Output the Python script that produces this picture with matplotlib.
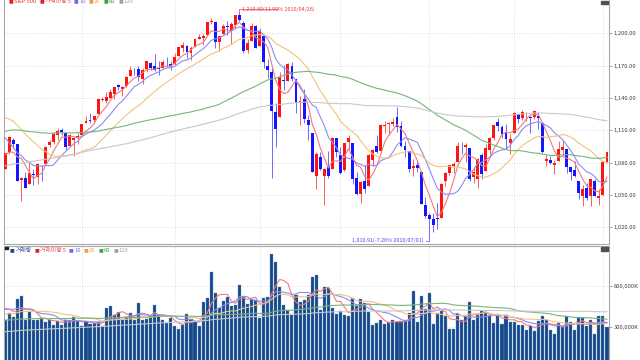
import matplotlib
matplotlib.use("Agg")
import matplotlib.pyplot as plt
import numpy as np
import pandas as pd
from matplotlib.offsetbox import TextArea, HPacker, AnchoredOffsetbox
from matplotlib.patches import Rectangle

plt.rcParams['font.family'] = ['Noto Sans CJK KR', 'DejaVu Sans']

# S&P 500 daily, 2010-02-01 .. 2010-09-02
opens = [
    1073.89, 1090.05, 1100.67, 1097.25, 1064.12, 1065.51, 1060.06, 1069.68, 1067.10, 1075.95,
    1079.13, 1096.14, 1099.03, 1105.49, 1110.00, 1107.49, 1095.89, 1101.24, 1103.10,
    1105.36, 1117.01, 1119.36, 1119.12, 1125.12, 1138.40, 1137.56, 1140.22, 1143.96, 1151.71,
    1148.53, 1150.83, 1159.94, 1166.13, 1166.68, 1157.25, 1166.47, 1172.70, 1170.03, 1167.58,
    1167.71, 1173.75, 1171.75,
    1171.23, 1178.71, 1186.01, 1188.23, 1181.75, 1187.47, 1194.94, 1195.94, 1198.69, 1210.77,
    1210.17, 1192.06, 1199.04, 1207.16, 1202.52, 1207.87, 1217.07, 1209.92, 1184.59, 1193.30,
    1206.77,
    1188.58, 1197.50, 1169.24, 1164.38, 1127.04, 1122.27, 1156.39, 1155.43, 1170.04, 1157.19,
    1136.52, 1138.78, 1119.57, 1107.34, 1067.26, 1084.78, 1067.42, 1075.51, 1074.27, 1102.59,
    1087.30, 1073.01, 1098.82, 1098.43, 1065.84, 1050.81, 1062.75, 1058.77, 1082.65, 1095.00,
    1091.21, 1114.02, 1115.98, 1116.16, 1122.79, 1113.90, 1095.57, 1090.93, 1075.10, 1077.50,
    1071.10, 1040.56,
    1031.10, 1027.65, 1028.09, 1028.54, 1062.92, 1070.50, 1077.23, 1080.65, 1095.61, 1094.46,
    1093.85, 1066.85, 1064.53, 1086.67, 1072.14, 1092.17, 1102.89, 1117.36, 1112.84, 1108.07,
    1098.44,
    1107.53, 1125.34, 1121.06, 1125.78, 1122.07, 1122.80, 1122.92, 1116.89, 1081.48, 1082.22,
    1077.49, 1081.16, 1092.08, 1092.44, 1075.63, 1073.36, 1063.20, 1048.98, 1056.28, 1049.27,
    1062.90, 1046.88,
    1049.72, 1080.66]
highs = [
    1089.38, 1104.73, 1102.72, 1097.25, 1067.13, 1071.20, 1079.28, 1073.67, 1080.04, 1077.81,
    1095.67, 1101.03, 1108.24, 1112.42, 1112.29, 1108.58, 1106.42, 1103.50, 1107.24,
    1116.11, 1123.46, 1125.64, 1123.73, 1139.38, 1141.05, 1145.37, 1148.26, 1150.24, 1153.41,
    1150.98, 1160.28, 1169.84, 1167.77, 1169.20, 1167.82, 1174.72, 1173.04, 1180.69, 1173.93,
    1174.85, 1177.83, 1174.56,
    1181.43, 1187.73, 1191.80, 1189.60, 1188.55, 1194.66, 1199.20, 1199.04, 1210.65, 1213.92,
    1210.17, 1197.87, 1208.58, 1210.99, 1210.27, 1217.28, 1219.80, 1211.38, 1195.05, 1209.36,
    1207.99,
    1205.13, 1197.50, 1175.95, 1167.58, 1135.13, 1163.85, 1170.48, 1172.87, 1173.57, 1157.19,
    1141.88, 1148.66, 1124.27, 1107.34, 1090.16, 1089.95, 1074.75, 1090.75, 1103.52, 1102.59,
    1094.77, 1098.56, 1105.67, 1098.43, 1071.36, 1063.15, 1077.74, 1087.85, 1092.25, 1105.91,
    1115.59, 1118.74, 1117.72, 1121.01, 1131.23, 1118.50, 1099.64, 1090.93, 1083.56, 1082.60,
    1071.10, 1048.08,
    1033.58, 1032.95, 1042.50, 1060.89, 1071.25, 1078.16, 1080.78, 1099.46, 1099.08, 1098.66,
    1093.85, 1074.70, 1083.94, 1088.96, 1097.50, 1103.73, 1115.01, 1120.95, 1114.66, 1115.90,
    1106.44,
    1127.30, 1125.44, 1128.75, 1126.56, 1123.06, 1129.24, 1127.16, 1116.89, 1086.72, 1086.25,
    1082.62, 1100.14, 1099.77, 1092.44, 1075.63, 1081.58, 1063.20, 1059.38, 1061.45, 1065.21,
    1064.40, 1055.14,
    1081.30, 1090.10]
lows = [
    1073.89, 1087.96, 1093.97, 1062.78, 1044.50, 1056.51, 1060.06, 1059.34, 1060.59, 1062.97,
    1079.13, 1094.72, 1097.48, 1100.80, 1105.38, 1092.18, 1095.50, 1086.02, 1097.56,
    1105.36, 1116.51, 1116.58, 1116.66, 1125.12, 1136.77, 1134.90, 1140.09, 1138.99, 1146.97,
    1141.45, 1150.35, 1159.94, 1161.16, 1155.33, 1152.88, 1163.83, 1166.01, 1165.09, 1161.48,
    1167.71, 1168.92, 1165.77,
    1170.69, 1178.71, 1182.77, 1177.25, 1175.12, 1187.15, 1194.71, 1188.82, 1198.69, 1208.50,
    1186.77, 1183.68, 1199.04, 1198.85, 1190.19, 1205.10, 1211.07, 1181.62, 1181.81, 1193.30,
    1186.32,
    1188.58, 1168.12, 1158.15, 1065.79, 1094.15, 1122.27, 1147.71, 1155.43, 1156.14, 1126.14,
    1114.96, 1117.20, 1100.66, 1071.58, 1055.90, 1072.70, 1040.78, 1065.59, 1074.27, 1084.78,
    1069.89, 1072.03, 1091.81, 1060.50, 1049.86, 1042.17, 1052.25, 1058.77, 1077.12, 1089.03,
    1091.21, 1107.13, 1105.87, 1113.93, 1108.24, 1094.18, 1085.31, 1071.60, 1067.89, 1071.45,
    1041.24, 1028.33,
    1010.91, 1015.93, 1018.35, 1028.54, 1058.24, 1068.10, 1070.45, 1080.65, 1087.68, 1080.53,
    1063.32, 1061.11, 1056.88, 1065.25, 1072.14, 1087.88, 1101.30, 1109.78, 1103.11, 1092.82,
    1088.01,
    1107.53, 1116.76, 1119.46, 1118.81, 1107.17, 1120.91, 1111.58, 1088.55, 1076.69, 1079.00,
    1069.49, 1081.16, 1085.76, 1070.66, 1063.91, 1067.08, 1046.68, 1039.83, 1045.40, 1039.70,
    1048.79, 1040.88,
    1049.72, 1080.39]
closes = [
    1089.19, 1103.32, 1097.28, 1063.11, 1066.19, 1056.74, 1070.52, 1068.13, 1078.47, 1075.51,
    1094.87, 1099.51, 1106.75, 1109.17, 1108.01, 1094.60, 1105.24, 1102.94, 1104.49,
    1115.71, 1118.31, 1118.79, 1122.97, 1138.70, 1138.50, 1140.45, 1145.61, 1150.24, 1149.99,
    1150.51, 1159.46, 1166.21, 1165.83, 1159.90, 1165.81, 1174.17, 1167.72, 1165.73, 1166.59,
    1173.22, 1173.27, 1169.43,
    1178.10, 1187.44, 1189.44, 1182.45, 1186.44, 1194.37, 1196.48, 1197.30, 1210.65, 1211.67,
    1192.13, 1197.52, 1207.17, 1205.94, 1208.67, 1217.28, 1212.05, 1183.71, 1191.36, 1206.78,
    1186.69,
    1202.26, 1173.60, 1165.87, 1128.15, 1110.88, 1159.73, 1155.79, 1171.67, 1157.44, 1135.68,
    1136.94, 1120.80, 1115.05, 1071.59, 1087.69, 1073.65, 1074.03, 1067.95, 1103.06, 1089.41,
    1070.71, 1098.38, 1102.83, 1064.88, 1050.47, 1062.00, 1055.69, 1086.84, 1091.60, 1089.63,
    1115.23, 1114.61, 1116.04, 1117.51, 1113.20, 1095.31, 1092.04, 1073.69, 1076.76, 1074.57,
    1041.24, 1030.71,
    1027.37, 1022.58, 1028.06, 1060.27, 1070.25, 1077.96, 1078.75, 1095.34, 1095.17, 1096.48,
    1064.88, 1071.25, 1083.48, 1069.59, 1093.67, 1102.66, 1115.01, 1113.84, 1106.13, 1101.53,
    1101.60,
    1125.86, 1120.46, 1127.24, 1125.81, 1121.64, 1127.79, 1121.06, 1089.47, 1083.61, 1079.25,
    1079.38, 1092.54, 1094.16, 1075.63, 1071.69, 1067.36, 1051.87, 1055.33, 1047.22, 1064.59,
    1048.92, 1049.33,
    1080.29, 1090.10]

# volume in K
volumes = [
    347500, 402500, 372500, 502500, 527500, 347500, 412500, 347500, 352500, 365000,
    337500, 352500, 315000, 340000, 315000, 352500, 347500, 370000, 340000, 302500,
    342500, 322500, 327500, 332500, 307500, 442500, 457500, 390000, 412500, 357500,
    365000, 402500, 347500, 477500, 352500, 357500, 377500, 465000, 385000, 347500,
    327500, 365000, 302500, 282500, 312500, 397500, 357500, 340000, 307500, 482500,
    512500, 707500, 547500, 440000, 490000, 522500, 452500, 462500, 607500, 520000,
    470000, 502500, 495000, 365000, 512500, 522500, 842500, 782500, 597500, 465000,
    422500, 387500, 537500, 482500, 497500, 532500, 672500, 682500, 427500, 595000,
    590000, 440000, 397500, 415000, 387500, 377500, 515000, 452500, 502500, 477500,
    407500, 312500, 327500, 352500, 322500, 332500, 347500, 332500, 340000, 352500,
    402500, 562500, 332500, 527500, 432500, 547500, 322500, 402500, 415000, 377500,
    285000, 285000, 397500, 352500, 377500, 482500, 347500, 390000, 415000, 412500,
    382500, 327500, 382500, 322500, 390000, 332500, 332500, 312500, 312500, 277500,
    307500, 265000, 340000, 377500, 347500, 272500, 247500, 327500, 297500, 382500,
    332500, 277500, 367500, 362500, 307500, 347500, 247500, 382500, 377500, 295000]

# earlier sessions (not drawn), only needed to warm up the moving averages
prior_closes = [
    994.35, 1005.81, 1012.73, 1004.09, 979.73, 989.67, 996.46, 1007.37, 1026.13, 1025.57,
    1028.00, 1028.12, 1030.98, 1028.93, 1020.62,
    998.04, 994.75, 1003.24, 1016.40, 1025.39, 1033.37, 1044.14, 1042.73, 1049.34, 1052.63,
    1068.76, 1065.49, 1068.30, 1064.66, 1071.66, 1060.87, 1050.78, 1044.38, 1062.98, 1060.61,
    1057.08,
    1029.85, 1025.21, 1040.46, 1054.72, 1057.58, 1065.48, 1071.49, 1076.19, 1073.19, 1092.02,
    1096.56, 1087.68, 1097.91, 1091.06, 1081.40, 1092.91, 1079.60, 1066.95, 1063.41, 1042.63,
    1066.11, 1036.19,
    1042.88, 1045.41, 1046.50, 1066.63, 1069.30, 1093.08, 1093.01, 1098.51, 1087.24, 1093.48,
    1109.30, 1110.32, 1109.80, 1094.90, 1091.38, 1106.24, 1105.65, 1110.63, 1091.49, 1095.63,
    1108.86, 1109.24, 1099.92, 1105.98, 1103.25, 1091.94, 1095.95, 1102.35, 1106.41, 1114.11,
    1107.93, 1109.18, 1096.08, 1102.47, 1114.05, 1118.02, 1120.59, 1126.48, 1127.78, 1126.20,
    1126.42, 1115.10,
    1132.99, 1136.52, 1137.14, 1141.69, 1144.98, 1146.98, 1136.22, 1145.68, 1148.46, 1136.03,
    1150.23, 1138.04, 1116.48, 1091.76, 1096.78, 1092.17, 1097.50, 1084.53, 1073.87]
prior_volumes = [
    150000, 165000, 172000, 158000, 180000, 175000, 190000, 168000, 160000, 155000,
    170000, 178000, 162000, 150000, 185000,
    160000, 165000, 170000, 150000, 172000, 185000, 178000, 168000, 170000, 176000,
    180000, 172000, 165000, 185000, 175000, 170000, 162000, 178000, 170000, 165000,
    168000,
    175000, 168000, 160000, 172000, 165000, 170000, 158000, 166000, 172000, 180000,
    176000, 168000, 170000, 182000, 175000, 168000, 172000, 180000, 178000, 185000,
    176000, 190000,
    330000, 345000, 320000, 335000, 310000, 340000, 325000, 318000, 342000, 330000,
    355000, 328000, 336000, 350000, 322000, 312000, 334000, 300000, 260000, 340000,
    345000, 338000, 330000, 352000, 325000, 340000, 333000, 348000, 326000, 342000,
    350000, 338000, 356000, 420000, 330000, 318000, 305000, 280000, 300000, 290000,
    295000, 285000,
    340000, 360000, 355000, 362000, 350000, 345000, 372000, 358000, 352000, 380000,
    390000, 385000, 420000, 470000, 445000, 430000, 455000, 480000, 465000]

ma_windows = [5, 10, 20, 60, 120]
ma_colors = ['#f07c7c', '#8c8cf4', '#f2c27e', '#78b47c', '#c8c8c8']
month_start_idx = [19, 42, 63, 83, 105, 126, 148]
price_ticks = [1020, 1050, 1080, 1110, 1140, 1170, 1200]
volume_ticks = [300000, 600000]
peak_date = "2010/04/26"
low_date = "2010/07/01"

opens, highs, lows, closes = map(np.array, (opens, highs, lows, closes))
volumes = np.array(volumes)
n = len(closes)
x = np.arange(n)
all_close = pd.Series(prior_closes + list(closes))
all_vol = pd.Series(prior_volumes + list(volumes))

W, H = 640, 360
fig = plt.figure(figsize=(6.4, 3.6), dpi=100)
ax = fig.add_axes([4 / W, 1 - 244 / H, 605 / W, 244 / H])
axv = fig.add_axes([4 / W, 0, 605 / W, (H - 246) / H])

grid_kw = dict(color='#d4d4d4', lw=0.6, ls=(0, (1, 2)), zorder=0)
for a in (ax, axv):
    a.set_xlim(-0.3, n - 0.5)
    for m in month_start_idx:
        a.axvline(m, **grid_kw)
    a.set_xticks([])
    a.yaxis.tick_right()
    a.tick_params(axis='y', direction='out', length=2, width=0.5, color='#808080',
                  labelsize=4.2, labelcolor='#404040', pad=1.5)
    for s in a.spines.values():
        s.set_color('#a8a8a8')
        s.set_linewidth(0.8)

# --- price panel ---
ax.set_ylim(1004.5, 1230.9)
ax.set_yticks(price_ticks)
ax.set_yticklabels([f"{v:,.2f}" for v in price_ticks])
for v in price_ticks:
    ax.axhline(v, **grid_kw)
ax.spines['top'].set_visible(False)

up = closes >= opens
body_lo = np.minimum(opens, closes)
body_h = np.maximum(np.abs(closes - opens), 0.5)
ax.vlines(x, lows, highs, colors=np.where(up, '#ff5a5a', '#6a6aff'), lw=0.7, zorder=2)
ax.bar(x, body_h, bottom=body_lo, width=0.72, color=np.where(up, '#ff1414', '#1414ff'),
       lw=0, zorder=3)
for w, c in zip(ma_windows, ma_colors):
    ma = all_close.rolling(w).mean().to_numpy()[-n:]
    ax.plot(x, ma, color=c, lw=0.8, zorder=4)

# max / min markers
last = closes[-1]
ip = int(np.argmax(highs))
il = int(np.argmin(lows))
ax.annotate(f"{highs[ip]:,.2f}({(highs[ip] / last - 1) * 100:.2f}% {peak_date})",
            xy=(ip, highs[ip]), xytext=(2.5, 3), textcoords='offset pixels',
            ha='left', va='center', fontsize=3.9, color='#e83c3c',
            arrowprops=dict(arrowstyle='-', color='#e83c3c', lw=0.5, shrinkA=0, shrinkB=0,
                            connectionstyle='angle,angleA=0,angleB=90,rad=0'))
ax.annotate(f"{lows[il]:,.2f}({(lows[il] / last - 1) * 100:.2f}% {low_date})",
            xy=(il, lows[il]), xytext=(-6, -3.6), textcoords='offset pixels',
            ha='right', va='center', fontsize=3.9, color='#4848f0',
            arrowprops=dict(arrowstyle='-', color='#4848f0', lw=0.5, shrinkA=0, shrinkB=0,
                            connectionstyle='angle,angleA=0,angleB=90,rad=0'))

# --- volume panel ---
axv.set_ylim(52500, 900000)
axv.set_yticks(volume_ticks)
axv.set_yticklabels([f"{v:,}K" for v in volume_ticks])
for v in volume_ticks:
    axv.axhline(v, **grid_kw)
axv.spines['bottom'].set_visible(False)
axv.bar(x, volumes, width=0.76, color='#164a8c', edgecolor='#6f93c4', lw=0.25, zorder=2)
for w, c in zip(ma_windows, ma_colors):
    ma = all_vol.rolling(w).mean().to_numpy()[-n:]
    axv.plot(x, ma, color=c, lw=0.8, zorder=4)


def legend_row(items, x0, y0):
    boxes = []
    for mark_color, label, color in items:
        boxes.append(HPacker(children=[
            TextArea("■", textprops=dict(color=mark_color, fontsize=3.4)),
            TextArea(label, textprops=dict(color=color, fontsize=4.2))],
            align='center', pad=0, sep=0.4))
    pack = HPacker(children=boxes, align='center', pad=0, sep=2.2)
    fig.add_artist(AnchoredOffsetbox(loc='upper left', child=pack, frameon=False,
                                     bbox_to_anchor=(x0, y0), bbox_transform=fig.transFigure,
                                     pad=0, borderpad=0))


legend_row([('#e02020', 'S&P 500', '#e03030'), ('#e02020', '가격이평 5', '#e84848'),
            ('#6a6af0', '10', '#7878f0'), ('#f0a040', '20', '#f0a848'),
            ('#40a040', '60', '#48a048'), ('#a0a0a0', '120', '#a8a8a8')],
           9 / W, 1 + 1 / H)
legend_row([('#1a3f8f', '거래량', '#2a4fa0'), ('#e02020', '거래이평 5', '#e84848'),
            ('#6a6af0', '10', '#7878f0'), ('#f0a040', '20', '#f0a848'),
            ('#40a040', '60', '#48a048'), ('#a0a0a0', '120', '#a8a8a8')],
           10 / W, 1 - 248.5 / H)

# small corner badges
fig.add_artist(Rectangle((4.5 / W, 1 - 248.5 / H), 3.5 / W, 1.6 / H, color='#202020',
                         transform=fig.transFigure))
for yb in (0.5, 247):
    fig.add_artist(Rectangle((601 / W, 1 - (yb + 3.5) / H), 7 / W, 3.5 / H, color='#505050',
                             transform=fig.transFigure))

fig.savefig("out.png", dpi=100)
